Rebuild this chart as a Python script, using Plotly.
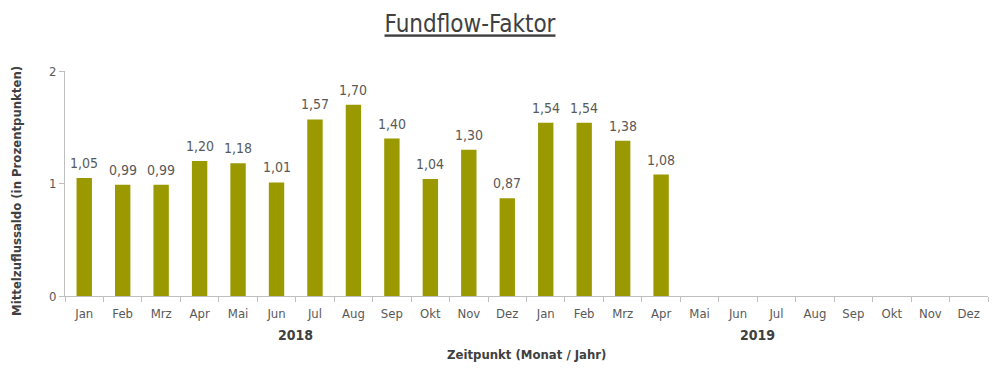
import plotly.graph_objects as go

months = ["Jan", "Feb", "Mrz", "Apr", "Mai", "Jun", "Jul", "Aug", "Sep", "Okt", "Nov", "Dez"]
years = ["2018", "2019"]
values_2018 = [1.05, 0.99, 0.99, 1.20, 1.18, 1.01, 1.57, 1.70, 1.40, 1.04, 1.30, 0.87]
values_2019 = [1.54, 1.54, 1.38, 1.08, None, None, None, None, None, None, None, None]

categories = [f"{m} {y}" for y in years for m in months]
values = values_2018 + values_2019
tick_text = months * 2
labels = [None if v is None else f"{v:.2f}".replace(".", ",") for v in values]

FONT = "DejaVu Sans Condensed, Liberation Sans Narrow, sans-serif"
BAR = "#9a9a00"
GREY = "#595959"
DARK = "#404040"
AXIS = "#bfbfbf"

W, H = 998, 364  # page body adds an 8px offset

fig = go.Figure()
fig.add_trace(go.Bar(
    x=categories,
    y=values,
    marker=dict(color=BAR, line=dict(width=0)),
    width=0.4,
    hoverinfo="x+y",
))

for cat, v, lab in zip(categories, values, labels):
    if v is None:
        continue
    fig.add_annotation(
        x=cat, y=v, xref="x", yref="y",
        xanchor="center", yanchor="bottom", yshift=5,
        text=lab, showarrow=False,
        font=dict(family=FONT, size=14, color=GREY),
    )

fig.update_layout(
    width=W, height=H,
    margin=dict(l=57, r=18, t=63, b=76),
    paper_bgcolor="white", plot_bgcolor="white",
    showlegend=False,
    separators=",.",
    font=dict(family=FONT, color=GREY, size=13),
    title=dict(
        text="<u>Fundflow-Faktor</u>",
        x=462 / W, xanchor="center",
        y=1 - 16 / H, yanchor="middle", yref="container",
        font=dict(family=FONT, size=24, color=DARK),
    ),
    xaxis=dict(
        type="category",
        categoryorder="array", categoryarray=categories,
        tickmode="array", tickvals=categories, ticktext=tick_text,
        tickson="boundaries", ticks="outside", ticklen=5, tickcolor=AXIS,
        ticklabelstandoff=5,
        showline=True, linecolor=AXIS, linewidth=1,
        showgrid=False, zeroline=False,
        tickfont=dict(family=FONT, size=13, color=GREY),
        range=[-0.5, 23.5],
    ),
    yaxis=dict(
        range=[0, 2], tickvals=[0, 1, 2], ticktext=["0", "1", "2"],
        ticks="outside", ticklen=5, tickcolor=AXIS,
        showline=True, linecolor=AXIS, linewidth=1,
        showgrid=False, zeroline=False,
        tickfont=dict(family=FONT, size=13, color=GREY),
    ),
    bargap=0.6,
)

for i, y in enumerate(years):
    fig.add_annotation(
        x=i * 12 + 5.5, y=0, xref="x", yref="paper",
        xanchor="center", yanchor="middle",
        yshift=-39, text=f"<b>{y}</b>", showarrow=False,
        font=dict(family=FONT, size=14, color=DARK),
    )

fig.add_annotation(
    x=0.5, y=0, xref="paper", yref="paper", yshift=-58,
    xanchor="center", yanchor="middle",
    text="<b>Zeitpunkt (Monat / Jahr)</b>", showarrow=False,
    font=dict(family=FONT, size=13, color=DARK),
)
fig.add_annotation(
    x=(17 - 65) / 923, y=0.467, xref="paper", yref="paper",
    xanchor="center", yanchor="middle",
    text="<b>Mittelzuflussaldo (in Prozentpunkten)</b>", showarrow=False,
    textangle=-90,
    font=dict(family=FONT, size=13, color=DARK),
)

fig.write_html("out.html")
